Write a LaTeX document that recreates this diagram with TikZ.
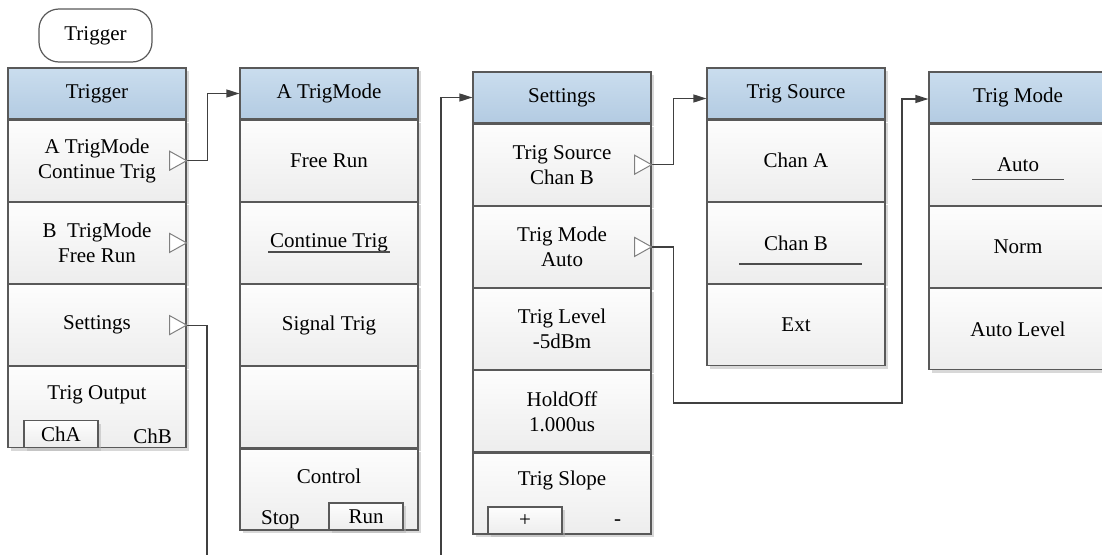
\documentclass[tikz,border=0pt]{standalone}
\usepackage{fontspec}
\setmainfont{Liberation Serif}
\usetikzlibrary{positioning, calc, shadows, arrows.meta}
\definecolor{hdrtop}{HTML}{CADDEE}
\definecolor{hdrbot}{HTML}{B3CBE2}
\definecolor{celltop}{HTML}{FDFDFD}
\definecolor{cellbot}{HTML}{EDEDED}
\definecolor{edge}{HTML}{595959}
\definecolor{wire}{HTML}{404040}
\definecolor{tricol}{HTML}{808080}

\begin{document}
\begin{tikzpicture}[x=1pt, y=-1pt, font=\fontsize{21}{25}\selectfont,
		box/.style={draw=edge, line width=1.2pt, minimum width=178pt, inner sep=0pt, align=center,
			drop shadow={shadow xshift=3pt, shadow yshift=-3pt, fill=black!30, opacity=0.5}},
		hdr/.style={box, minimum height=51pt, top color=hdrtop, bottom color=hdrbot},
		cell/.style={box, minimum height=81pt, top color=celltop, bottom color=cellbot},
		subbox/.style={box, minimum width=74pt, minimum height=27pt, top color=celltop, bottom color=cellbot},
		btn/.style={draw=edge, line width=1.2pt, rounded corners=20pt, minimum width=113pt,
			minimum height=53pt, fill=white},
		conn/.style={draw=wire, line width=1.2pt},
		arr/.style={conn, -{Triangle[length=13pt, width=8pt]}},
		uline/.style={draw=black!70, line width=1.2pt},
		opentri/.pic={\draw[draw=tricol, fill=white, line width=1pt] (-17,-9.5) -- (0,0) -- (-17,9.5) -- cycle;}]
		\useasboundingbox (0,0) rectangle (1102,554); \clip (0,0) rectangle (1102,554);
		
		% Define nodes
		\node[btn] (trigbtn) at (95.5,35.5) {Trigger};
		\node[hdr] (trighdr) at (97,93.5) {Trigger}; \node[cell, below=0pt of trighdr] (amode)
		{A TrigMode\\Continue Trig}; \node[cell, below=0pt of amode] (bmode) {B\ \ TrigMode\\Free
		Run}; \node[cell, below=0pt of bmode] (setting) {Settings}; \node[cell, below=0pt of
		setting] (trigout) {}; \node (outtxt) at ($(trigout.center)+(0,-12)$) {Trig Output};
		\node[subbox, anchor=south west] (chabtn) at ($(trigout.south west)+(16,0)$) {ChA};
		\node (chbtxt) at ($(trigout.south east)+(-34,-12)$) {ChB};
		
		\node[hdr] (amodehdr) at (329,93.5) {A TrigMode}; \node[cell, below=0pt of amodehdr]
		(freerun) {Free Run}; \node[cell, below=0pt of freerun] (contrig) {Continue Trig};
		\node[cell, below=0pt of contrig] (sigtrig) {Signal Trig}; \node[cell, below=0pt of
		sigtrig] (spare) {}; \node[cell, below=0pt of spare] (control) {}; \node (ctrltxt) at
		($(control.center)+(0,-13)$) {Control}; \node (stoptxt) at ($(control.south
		west)+(41,-11)$) {Stop}; \node[subbox, anchor=south east] (runbtn) at ($(control.south
		east)+(-15,0)$) {Run};
		
		\node[hdr] (sethdr) at (562,97.5) {Settings}; \node[cell, below=0pt of sethdr] (trigsrc)
		{Trig Source\\Chan B}; \node[cell, below=0pt of trigsrc] (trigmode) {Trig Mode\\Auto};
		\node[cell, below=0pt of trigmode] (triglevel) {Trig Level\\-5dBm}; \node[cell,
		below=0pt of triglevel] (holdoff) {HoldOff\\1.000us}; \node[cell, below=0pt of holdoff]
		(trigslope) {}; \node (slopetxt) at ($(trigslope.center)+(0,-13)$) {Trig Slope};
		\node[subbox, anchor=south west] (plusbtn) at ($(trigslope.south west)+(15,0)$) {+};
		\node (minustxt) at ($(trigslope.south east)+(-34,-12)$) {-};
		
		\node[hdr] (srchdr) at (796,93.5) {Trig Source}; \node[cell, below=0pt of srchdr]
		(chana) {Chan A}; \node[cell, below=0pt of chana] (chanb) {Chan B}; \node[cell,
		below=0pt of chanb] (ext) {Ext};
		
		\node[hdr] (modehdr) at (1018,97.5) {Trig Mode}; \node[cell, below=0pt of modehdr]
		(autosel) {Auto}; \node[cell, below=0pt of autosel] (norm) {Norm}; \node[cell,
		below=0pt of norm] (autolevel) {Auto Level};
		
		\coordinate (cut1) at (207,560); \coordinate (cut2) at (441,560); \coordinate (bend)
		at (902,403);
		
		% Draw edges
		\draw[arr] (amode.east) -- ++(21,0) |- (amodehdr.west); \draw[conn] (setting.east) -|
		(cut1); \draw[arr] (cut2) |- (sethdr.west); \draw[arr] (trigsrc.east) -- ++(22,0) |-
		([yshift=-5pt]srchdr.west); \draw[arr] (trigmode.east) -- ++(22,0) |- (bend) |-
		([yshift=-1.5pt]modehdr.west);
		
		\foreach \n in {amode, bmode, setting, trigsrc, trigmode} \pic at (\n.east) {opentri};
		
		\draw[uline] ($(contrig.center)+(-61,9)$) -- ++(122,0); \draw[uline]
		($(chanb.center)+(-57,21)$) -- ++(123,0); \draw[uline] ($(autosel.center)+(-46,14.5)$)
		-- ++(92,0);
	\end{tikzpicture}
\end{document}
